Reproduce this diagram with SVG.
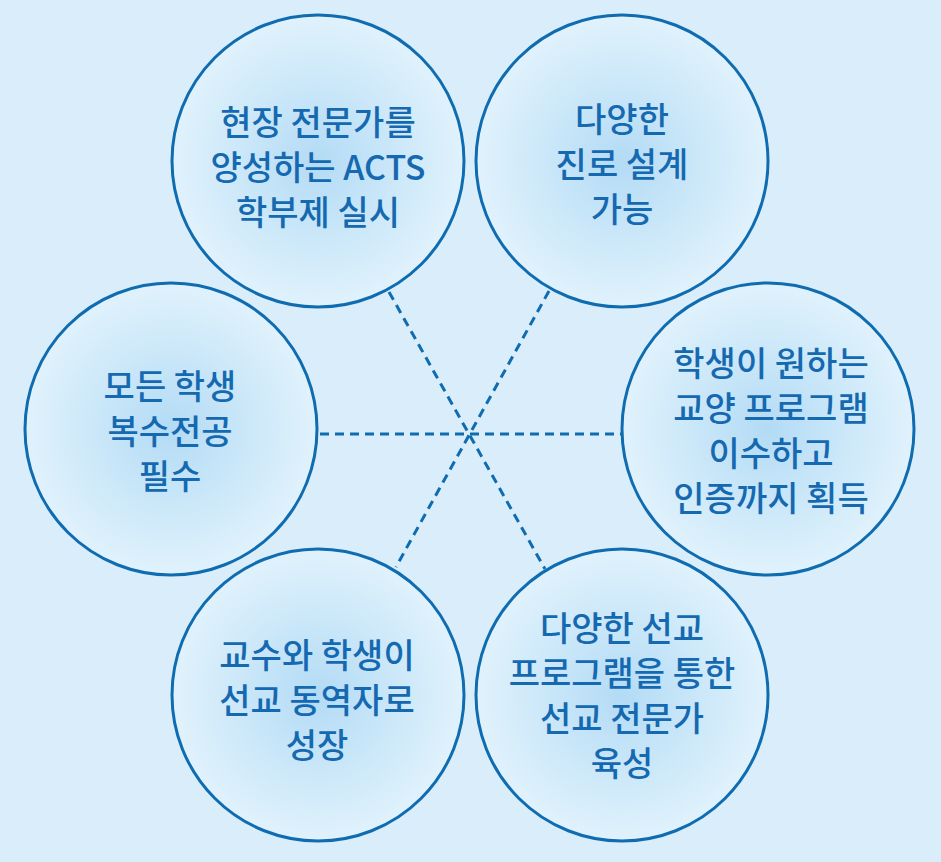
<svg xmlns="http://www.w3.org/2000/svg" width="941" height="862" viewBox="0 0 941 862">
<defs>
<radialGradient id="g" cx="0.5" cy="0.5" r="0.5">
<stop offset="0" stop-color="#b3dbf5"/>
<stop offset="0.55" stop-color="#cce8f9"/>
<stop offset="1" stop-color="#e0f2fc"/>
</radialGradient>
<style>
.c{fill:url(#g);stroke:#0f6cb0;stroke-width:3}
.t{font-family:"Noto Sans CJK KR","Noto Sans",sans-serif;font-size:34px;font-weight:500;fill:#1569b0;text-anchor:middle}
.d{fill:none;stroke:#0f6cb0;stroke-width:3;stroke-dasharray:9 6}
</style>
</defs>
<rect width="941" height="862" fill="#d9eefa"/>
<g id="connectors">
<line class="d" x1="320" y1="434" x2="621" y2="434"/>
<line class="d" x1="389" y1="292" x2="545" y2="569"/>
<line class="d" x1="549" y1="291" x2="396" y2="567"/>
</g>
<g id="n1">
<circle class="c" cx="318" cy="161" r="146"/>
<text class="t" x="318" y="135">현장 전문가를</text>
<text class="t" x="318" y="180">양성하는 ACTS</text>
<text class="t" x="318" y="225">학부제 실시</text>
</g>
<g id="n2">
<circle class="c" cx="622" cy="161" r="146"/>
<text class="t" x="622" y="132">다양한</text>
<text class="t" x="622" y="177">진로 설계</text>
<text class="t" x="622" y="222">가능</text>
</g>
<g id="n3">
<circle class="c" cx="171" cy="429" r="146"/>
<text class="t" x="170" y="399">모든 학생</text>
<text class="t" x="170" y="444">복수전공</text>
<text class="t" x="170" y="489">필수</text>
</g>
<g id="n4">
<circle class="c" cx="768" cy="429" r="146"/>
<text class="t" x="771" y="376">학생이 원하는</text>
<text class="t" x="771" y="421">교양 프로그램</text>
<text class="t" x="771" y="466">이수하고</text>
<text class="t" x="771" y="511">인증까지 획득</text>
</g>
<g id="n5">
<circle class="c" cx="318" cy="695" r="146"/>
<text class="t" x="317" y="668">교수와 학생이</text>
<text class="t" x="317" y="713">선교 동역자로</text>
<text class="t" x="317" y="758">성장</text>
</g>
<g id="n6">
<circle class="c" cx="622" cy="695" r="146"/>
<text class="t" x="622" y="641">다양한 선교</text>
<text class="t" x="622" y="686">프로그램을 통한</text>
<text class="t" x="622" y="731">선교 전문가</text>
<text class="t" x="622" y="776">육성</text>
</g>
</svg>
